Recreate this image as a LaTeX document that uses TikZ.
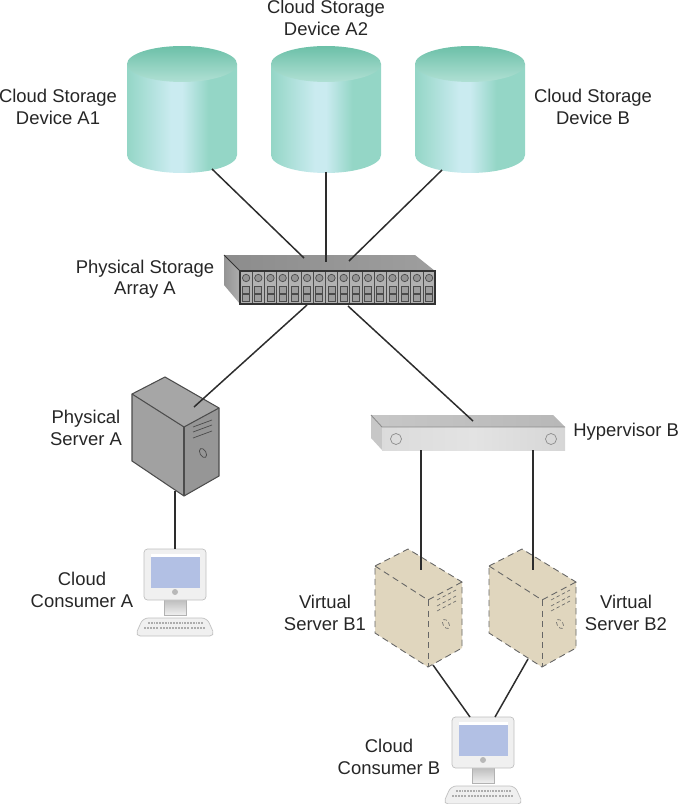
\documentclass[tikz,border=0pt]{standalone}
\usepackage{fontspec}
\setmainfont{Liberation Sans}
\definecolor{wire}{RGB}{45,45,45}
\definecolor{cyltop}{RGB}{108,192,168}
\definecolor{cyllow}{RGB}{176,224,212}
\definecolor{cylside}{RGB}{148,214,198}
\definecolor{cylshine}{RGB}{202,235,240}
\definecolor{tan}{RGB}{224,214,190}
\definecolor{slot}{RGB}{178,178,178}
\definecolor{screen}{RGB}{178,192,228}
\definecolor{shell}{RGB}{240,240,240}
\pgfdeclarehorizontalshading{cylbody}{100bp}{color(0bp)=(cylside); color(25bp)=(cylside); color(45bp)=(cylshine); color(50bp)=(cylshine); color(62bp)=(cylside); color(100bp)=(cylside)}
\tikzset{
    wireline/.style={draw=wire, line width=0.85pt},
    label/.style={align=center, font=\fontsize{10.5}{12.2}\selectfont, text=black!85},
    vdash/.style={draw=black!60, line width=0.5pt, dash pattern=on 3.6pt off 2.4pt}
}
\begin{document}
\begin{tikzpicture}[x=0.02cm, y=-0.02cm]
    \useasboundingbox (0,0) rectangle (681,804);
    % storage devices
    \foreach \cx in {182,326,470} {
        \shade[shading=cylbody] (\cx-55,64) -- (\cx-55,155) arc (180:0:55 and 18) -- (\cx+55,64) -- cycle;
        \shade[top color=cyltop, bottom color=cyllow] (\cx,64) ellipse (55 and 18);
    }
    % storage array
    \shade[left color=black!45, right color=black!38] (224,255) -- (415,255) -- (435,271) -- (240,271) -- cycle;
    \shade[left color=black!42, right color=black!32] (224,255) -- (240,271) -- (240,304) -- (224,285) -- cycle;
    \fill[slot] (240,271) rectangle (435,304);
    \foreach \i in {0,...,15} {
        \draw[black!70, line width=0.45pt] (240+12.2*\i,271) -- (240+12.2*\i,304);
        \draw[black!70, line width=0.4pt, fill=black!42] (246.1+12.2*\i,278) circle (3.7);
        \draw[black!70, line width=0.4pt, fill=black!38] (242.6+12.2*\i,286) rectangle (249.6+12.2*\i,293);
        \draw[black!70, line width=0.4pt, fill=black!38] (242.6+12.2*\i,294) rectangle (249.6+12.2*\i,301);
    }
    \draw[black!80, line width=0.6pt] (240,271) rectangle (435,304);
    \draw[black!80, line width=0.6pt] (224,255) -- (240,271);
    % physical server
    \begin{scope}[draw=black!70, line width=0.6pt]
        \fill[black!35] (132,394) -- (165,377) -- (219,408) -- (184,427) -- cycle;
        \fill[black!37] (132,394) -- (184,427) -- (184,496) -- (132,461) -- cycle;
        \fill[black!41] (184,427) -- (219,408) -- (219,476) -- (184,496) -- cycle;
        \draw (132,394) -- (165,377) -- (219,408) -- (219,476) -- (184,496) -- (132,461) -- cycle;
        \draw (132,394) -- (184,427) -- (219,408);
        \draw (184,427) -- (184,496);
        \draw[line width=0.4pt] (193,427) -- (212,420);
        \draw[line width=0.4pt] (193,432) -- (212,425);
        \draw[line width=0.4pt] (193,438) -- (212,431);
        \draw[line width=0.4pt, rotate around={-60:(203,453)}] (203,453) ellipse (5 and 3);
    \end{scope}
    % hypervisor
    \shade[left color=black!22, right color=black!28] (371,415) -- (553,415) -- (565,427) -- (382,427) -- cycle;
    \fill[black!22] (371,415) -- (382,427) -- (382,450) -- (371,438) -- cycle;
    \shade[left color=black!14, right color=black!16, middle color=black!11] (382,427) rectangle (565,450);
    \draw[black!45, line width=0.5pt] (371,415) -- (382,427) -- (565,427);
    \draw[black!45, line width=0.4pt] (396,439) circle (5.5);
    \draw[black!45, line width=0.4pt] (551,439) circle (5.5);
    % virtual servers
    \foreach \dx in {0,114} {
        \begin{scope}[xshift=\dx*0.02cm]
            \fill[tan] (375,566) -- (408,549) -- (462,582) -- (462,648) -- (428,667) -- (375,633) -- cycle;
            \draw[vdash] (375,566) -- (408,549) -- (462,582) -- (462,648) -- (428,667) -- (375,633) -- cycle;
            \draw[vdash] (375,566) -- (428,600) -- (462,582);
            \draw[vdash] (428,600) -- (428,667);
            \draw[vdash, line width=0.35pt, dash pattern=on 2pt off 1.5pt] (437,600) -- (456,590);
            \draw[vdash, line width=0.35pt, dash pattern=on 2pt off 1.5pt] (437,606) -- (456,596);
            \draw[vdash, line width=0.35pt, dash pattern=on 2pt off 1.5pt] (437,611) -- (456,601);
            \draw[vdash, line width=0.35pt, dash pattern=on 2pt off 1.5pt, rotate around={-60:(446,624)}] (446,624) ellipse (5 and 3);
        \end{scope}
    }
    % consumers
    \foreach \dx/\dy in {0/0,308/168} {
        \begin{scope}[shift={(\dx*0.02cm,-\dy*0.02cm)}]
            \shade[top color=black!28, bottom color=black!6] (164,598) rectangle (186,615);
            \draw[black!30, line width=0.3pt] (164,598) rectangle (186,615);
            \draw[black!25, fill=shell, line width=0.4pt, rounded corners=2pt] (144,549) rectangle (206,600);
            \fill[screen] (151,554) rectangle (200,588);
            \fill[white] (151,554) rectangle (200,556.5);
            \fill[black!28] (175,592) circle (3);
            \draw[black!25, fill=shell, line width=0.4pt, rounded corners=3pt] (143,618) -- (207,618) -- (215,636) -- (135,636) -- cycle;
            \foreach \i in {0,...,19} {
                \fill[black!32] (148+2.8*\i,622) rectangle (149.8+2.8*\i,624);
                \fill[black!32] (144+3.1*\i,626.5) rectangle (146+3.1*\i,628.5);
            }
        \end{scope}
    }
    % connector ends
    \coordinate (deva1) at (212,169);
    \coordinate (deva2) at (326,172);
    \coordinate (devb) at (442,170);
    \coordinate (arrayin1) at (304,258);
    \coordinate (arrayin2) at (326,262);
    \coordinate (arrayin3) at (349,261);
    \coordinate (arrayout1) at (307,305);
    \coordinate (arrayout2) at (348,306);
    \coordinate (serverA) at (194,407);
    \coordinate (serverAlow) at (175,491);
    \coordinate (monA) at (175,549);
    \coordinate (hyptop) at (473,421);
    \coordinate (hyp1) at (421,450);
    \coordinate (hyp2) at (533,450);
    \coordinate (vs1) at (421,570);
    \coordinate (vs2) at (533,570);
    \coordinate (vs1low) at (433,665);
    \coordinate (vs2low) at (528,659);
    \coordinate (monB1) at (470,717);
    \coordinate (monB2) at (495,717);
    \draw[wireline] (deva1) -- (arrayin1);
    \draw[wireline] (deva2) -- (arrayin2);
    \draw[wireline] (devb) -- (arrayin3);
    \draw[wireline] (arrayout1) -- (serverA);
    \draw[wireline] (arrayout2) -- (hyptop);
    \draw[wireline] (serverAlow) -- (monA);
    \draw[wireline] (hyp1) -- (vs1);
    \draw[wireline] (hyp2) -- (vs2);
    \draw[wireline] (vs1low) -- (monB1);
    \draw[wireline] (vs2low) -- (monB2);
    % labels
    \node[label] (lblA1) at (58,107) {Cloud Storage\\Device A1};
    \node[label] (lblA2) at (326,18) {Cloud Storage\\Device A2};
    \node[label] (lblB) at (593,107) {Cloud Storage\\Device B};
    \node[label] (lblarray) at (145,279) {Physical Storage\\Array A};
    \node[label] (lblserver) at (86,428) {Physical\\Server A};
    \node[label, anchor=west, inner sep=0pt] (lblhyp) at (573,432) {Hypervisor B};
    \node[label] (lblconA) at (82,590) {Cloud\\Consumer A};
    \node[label] (lblvs1) at (325,613) {Virtual\\Server B1};
    \node[label] (lblvs2) at (626,613) {Virtual\\Server B2};
    \node[label] (lblconB) at (389,757) {Cloud\\Consumer B};
\end{tikzpicture}
\end{document}
